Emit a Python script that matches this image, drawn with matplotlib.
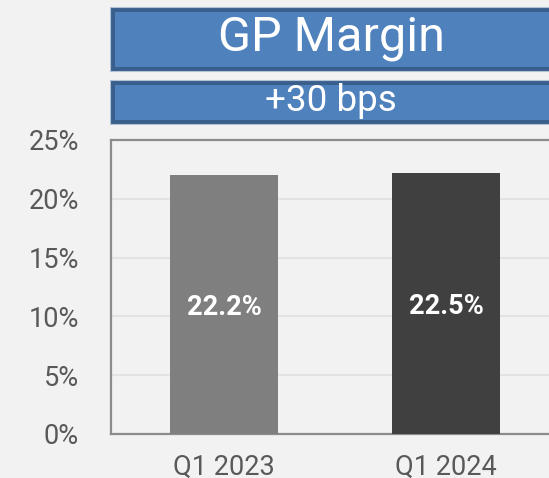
import matplotlib.pyplot as plt
from matplotlib.patches import Rectangle

plt.rcParams['font.family'] = ['Roboto', 'DejaVu Sans']

categories = ['Q1 2023', 'Q1 2024']
bar_heights = [22.05, 22.2]          # heights as drawn in the picture
bar_labels = ['22.2%', '22.5%']      # labels printed on the bars
bar_colors = ['#7f7f7f', '#404040']
yticks = [0, 5, 10, 15, 20, 25]
title = 'GP Margin'
subtitle = '+30 bps'

W, H = 549, 478
fig = plt.figure(figsize=(W / 100, H / 100), dpi=100, facecolor='#f2f2f2')

# axes placed in pixel terms, right side runs off the canvas like the original
ax = fig.add_axes([111 / W, (H - 434) / H, 448 / W, 294 / H])
ax.set_facecolor('#f2f2f2')

x = range(len(categories))
ax.bar(x, bar_heights, width=0.486, color=bar_colors, zorder=3)
for xi, v, lab in zip(x, bar_heights, bar_labels):
    ax.text(xi, v / 2 - 0.3, lab, ha='center', va='center', color='white',
            fontsize=19.5, fontweight='bold', zorder=4)

ax.set_xlim(-0.509, 1.509)
ax.set_ylim(0, 25)
ax.set_yticks(yticks)
ax.set_yticklabels([f'{t}%' for t in yticks])
ax.set_xticks(list(x))
ax.set_xticklabels(categories)
ax.tick_params(axis='y', length=0, pad=23, labelsize=19.5, labelcolor='#595959')
ax.tick_params(axis='x', length=0, pad=14, labelsize=19.5, labelcolor='#595959')
ax.grid(axis='y', color='#e3e3e3', linewidth=1.5, zorder=0)
for s in ax.spines.values():
    s.set_color('#8c8c8c')
    s.set_linewidth(1.6)


def box(y0, y1, text, size):
    # y0, y1 in pixels from top
    r = Rectangle((112 / W, 1 - y1 / H), (553 - 112) / W, (y1 - y0) / H,
                  transform=fig.transFigure, facecolor='#4f81bd',
                  edgecolor='#3a5f8c', linewidth=3.6)
    fig.patches.append(r)
    o = Rectangle((109.5 / W, 1 - (y1 + 2.5) / H), (560 - 109.5) / W, (y1 - y0 + 5) / H,
                  transform=fig.transFigure, facecolor='none',
                  edgecolor='#b4c2d6', linewidth=0.8)
    fig.patches.append(o)
    fig.text(331 / W, 1 - ((y0 + y1) / 2 - 1) / H, text, ha='center', va='center',
             color='white', fontsize=size)


box(9, 68.5, title, 35)
box(82, 121.5, subtitle, 26.5)

fig.savefig('out.png', dpi=100, facecolor=fig.get_facecolor())
